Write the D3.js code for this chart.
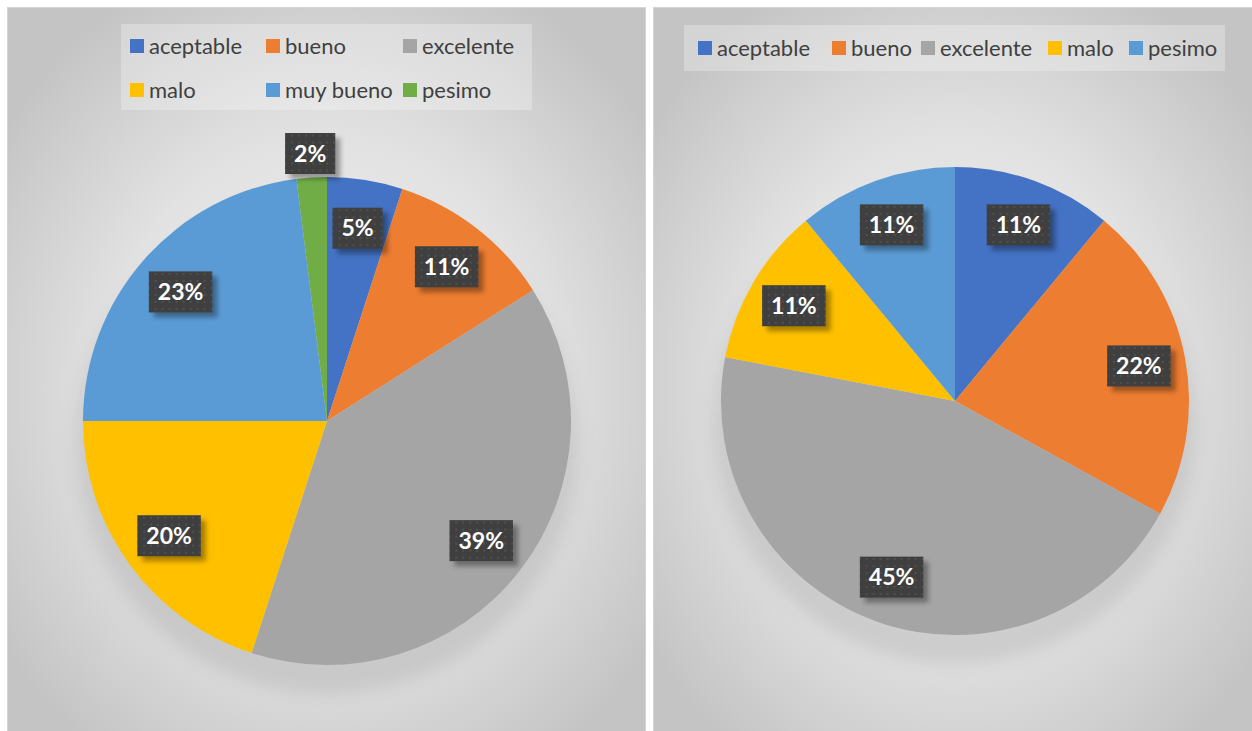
<!DOCTYPE html>
<html>
<head>
<meta charset="utf-8">
<script src="https://cdn.jsdelivr.net/npm/d3@7"></script>
<style>
  html, body { margin: 0; padding: 0; background: #ffffff; }
  svg { display: block; }
</style>
</head>
<body>
<svg id="chart" width="1252" height="731"></svg>
<script>
// Survey ratings, shown as percentage shares in two pie charts
const leftCategories = ["aceptable", "bueno", "excelente", "malo", "muy bueno", "pesimo"];
const leftValues = [5, 11, 39, 20, 23, 2];

const rightCategories = ["aceptable", "bueno", "excelente", "malo", "pesimo"];
const rightValues = [11, 22, 45, 11, 11];

const palette = ["#4472C4", "#ED7D31", "#A5A5A5", "#FFC000", "#5B9BD5", "#70AD47"];

const svg = d3.select("#chart");
const defs = svg.append("defs");

// panel background: soft radial grey gradient
const grad = defs.append("radialGradient").attr("id", "panelBg")
  .attr("cx", "50%").attr("cy", "52%").attr("r", "62%");
grad.append("stop").attr("offset", "0%").attr("stop-color", "#efefef");
grad.append("stop").attr("offset", "55%").attr("stop-color", "#e2e2e2");
grad.append("stop").attr("offset", "100%").attr("stop-color", "#c4c4c4");

// textured fill for the data label boxes
const pat = defs.append("pattern").attr("id", "labelTex")
  .attr("width", 7).attr("height", 7).attr("patternUnits", "userSpaceOnUse");
pat.append("rect").attr("width", 7).attr("height", 7).attr("fill", "#3f3f3f");
pat.append("rect").attr("x", 2).attr("y", 2).attr("width", 2).attr("height", 2).attr("fill", "#505050");

// blur used for the pie shadow and the label shadows
defs.append("filter").attr("id", "softBlur")
  .attr("x", "-30%").attr("y", "-30%").attr("width", "160%").attr("height", "160%")
  .append("feGaussianBlur").attr("stdDeviation", 9);
defs.append("filter").attr("id", "boxBlur")
  .attr("x", "-40%").attr("y", "-40%").attr("width", "180%").attr("height", "180%")
  .append("feGaussianBlur").attr("stdDeviation", 2.5);

function drawPanel(opts) {
  const g = svg.append("g");
  g.append("rect")
    .attr("x", opts.x + 0.5).attr("y", opts.y + 0.5)
    .attr("width", opts.w).attr("height", opts.h)
    .attr("fill", "url(#panelBg)")
    .attr("stroke", "#d4d4d4").attr("stroke-width", 1);

  // legend
  const lg = g.append("g");
  lg.append("rect")
    .attr("x", opts.legend.x).attr("y", opts.legend.y)
    .attr("width", opts.legend.w).attr("height", opts.legend.h)
    .attr("fill", "#ffffff").attr("fill-opacity", 0.28);
  const items = lg.selectAll("g.item").data(opts.categories).join("g")
    .attr("class", "item")
    .attr("transform", (d, i) => `translate(${opts.legend.itemX[i]},${opts.legend.itemY[i]})`);
  items.append("rect")
    .attr("x", 0).attr("y", -7).attr("width", 14).attr("height", 14)
    .attr("fill", (d, i) => palette[i]);
  items.append("text")
    .attr("x", 19).attr("y", 0)
    .attr("dy", "0.35em")
    .attr("font-family", "Lato, 'Open Sans', sans-serif")
    .attr("font-size", 22)
    .attr("fill", "#404040")
    .text(d => d);

  // pie
  const cx = opts.cx, cy = opts.cy, R = opts.r;
  const pie = d3.pie().sort(null).value(d => d);
  const arcs = pie(opts.values);
  const arc = d3.arc().innerRadius(0).outerRadius(R);

  g.append("ellipse")
    .attr("cx", cx).attr("cy", cy + 24)
    .attr("rx", R + 6).attr("ry", R + 4)
    .attr("fill", "#000").attr("fill-opacity", 0.09)
    .attr("filter", "url(#softBlur)");

  const pg = g.append("g").attr("transform", `translate(${cx},${cy})`);
  pg.selectAll("path").data(arcs).join("path")
    .attr("d", arc)
    .attr("fill", (d, i) => palette[i]);

  // data labels
  const lab = pg.selectAll("g.lab").data(arcs).join("g").attr("class", "lab")
    .attr("transform", d => {
      const a = (d.startAngle + d.endAngle) / 2;
      const share = (d.endAngle - d.startAngle) / (2 * Math.PI);
      const rr = share < 0.03 ? R + 24 : R * 0.8;
      return `translate(${rr * Math.sin(a)},${-rr * Math.cos(a)})`;
    });
  lab.append("text")
    .attr("text-anchor", "middle")
    .attr("dy", "0.36em")
    .attr("font-family", "Lato, 'Open Sans', sans-serif")
    .attr("font-weight", "bold")
    .attr("font-size", 23)
    .attr("fill", "#ffffff")
    .text(d => d.data + "%");
  lab.each(function () {
    const t = d3.select(this).select("text");
    const w = t.node().getComputedTextLength() + 18;
    const h = 41;
    d3.select(this).insert("rect", "text")
      .attr("x", -w / 2 + 5).attr("y", -h / 2 + 5)
      .attr("width", w).attr("height", h)
      .attr("fill", "#000").attr("fill-opacity", 0.35)
      .attr("filter", "url(#boxBlur)");
    d3.select(this).insert("rect", "text")
      .attr("x", -w / 2).attr("y", -h / 2)
      .attr("width", w).attr("height", h)
      .attr("fill", "url(#labelTex)");
  });
}

drawPanel({
  x: 7, y: 7, w: 638, h: 730,
  categories: leftCategories, values: leftValues,
  cx: 327, cy: 421, r: 244,
  legend: {
    x: 121, y: 24, w: 411, h: 86,
    itemX: [130, 266, 403, 130, 266, 403],
    itemY: [46, 46, 46, 90, 90, 90]
  }
});

drawPanel({
  x: 653, y: 7, w: 604, h: 730,
  categories: rightCategories, values: rightValues,
  cx: 955, cy: 401, r: 234,
  legend: {
    x: 684, y: 25, w: 541, h: 46,
    itemX: [698, 832, 921, 1048, 1129],
    itemY: [48, 48, 48, 48, 48]
  }
});
</script>
</body>
</html>
